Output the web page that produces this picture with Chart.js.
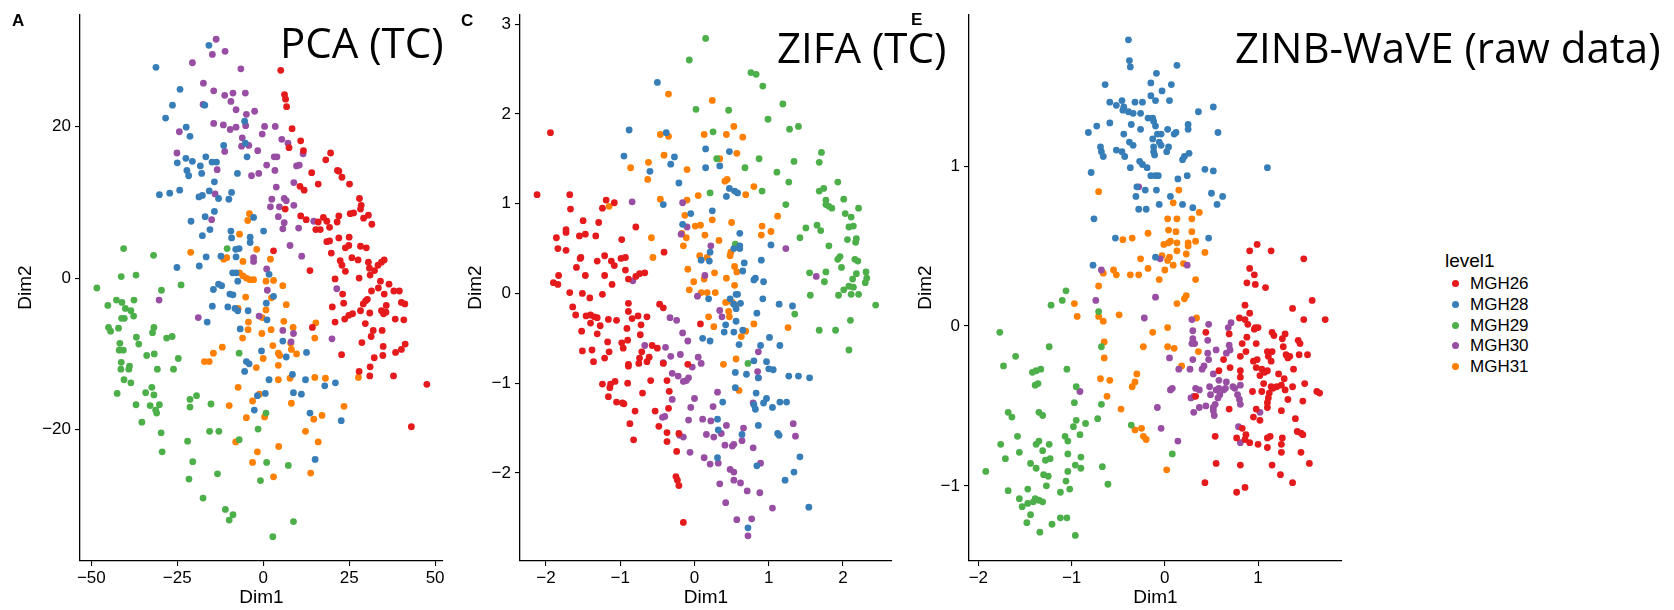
<!DOCTYPE html>
<html>
<head>
<meta charset="utf-8">
<script src="https://cdn.jsdelivr.net/npm/chart.js@4.4.1/dist/chart.umd.min.js"></script>
<style>
  body { margin: 0; width: 1674px; height: 610px; background: #fff; position: relative; overflow: hidden;
         font-family: 'Liberation Sans', Arial, sans-serif; color: #000; }
  canvas { position: absolute; top: 0; }
  .title { position: absolute; font-family: 'Open Sans', sans-serif; font-size: 42px; line-height: 42px; white-space: nowrap; }
  .tag { position: absolute; font-weight: bold; font-size: 17px; line-height: 17px; }
  #legend { position: absolute; left: 0; top: 0; }
  .legTitle { position: absolute; left: 1445px; top: 251px; font-size: 19px; line-height: 19px; white-space: nowrap; }
  .legItem { position: absolute; left: 1470px; font-size: 17px; line-height: 21px; white-space: nowrap; }
  .legDot { position: absolute; width: 7px; height: 7px; border-radius: 50%; }
</style>
</head>
<body>
<canvas id="pca" width="450" height="610" style="left:0px"></canvas>
<canvas id="zifa" width="450" height="610" style="left:450px"></canvas>
<canvas id="zinb" width="450" height="610" style="left:900px"></canvas>

<div class="tag" style="left:12px; top:12px">A</div>
<div class="tag" style="left:461px; top:12px">C</div>
<div class="tag" style="left:911px; top:11px">E</div>
<div class="title" style="left:280px; top:21px">PCA (TC)</div>
<div class="title" style="left:777px; top:26px">ZIFA (TC)</div>
<div class="title" style="left:1235px; top:26px">ZINB-WaVE (raw data)</div>
<div id="legend"></div>

<script>
const groupNames = ['MGH26', 'MGH28', 'MGH29', 'MGH30', 'MGH31'];
const groupColors = ['#E41A1C', '#377EB8', '#4DAF4A', '#984EA3', '#FF7F00'];

// PCA (TC)
const pcaXTicks = [-50, -25, 0, 25, 50];
const pcaYTicks = [-20, 0, 20];
const pcaMGH26 = [[5.1,27.4],[6.2,24.2],[6.5,23.6],[6.8,22.6],[8.4,19.7],[10.9,18.1],[7.5,17.2],[11.7,16.8],[19.6,16.5],[18.2,15.6],[21.6,14.2],[22.0,14.1],[14.1,13.9],[22.9,13.3],[25.1,12.4],[16.0,12.4],[10.7,12.1],[11.9,11.6],[28.0,10.5],[28.5,9.6],[28.3,9.1],[6.4,9.1],[25.3,8.5],[26.3,8.6],[30.6,8.3],[29.2,7.9],[22.0,8.2],[17.5,8.0],[10.9,8.2],[12.5,7.7],[16.0,7.4],[18.5,7.5],[21.5,7.4],[31.6,7.1],[15.3,6.4],[16.6,6.4],[19.3,6.7],[22.0,5.3],[25.0,5.4],[18.5,4.8],[19.3,4.9],[23.9,4.0],[24.9,4.3],[28.3,4.2],[30.0,4.0],[3.0,3.6],[19.8,3.3],[25.8,2.7],[27.6,2.4],[22.4,2.3],[22.9,1.7],[30.6,2.1],[35.2,2.4],[34.4,2.1],[33.4,1.7],[30.9,1.3],[32.4,1.0],[23.9,0.9],[13.6,1.0],[31.1,0.4],[27.9,0.0],[20.9,-0.1],[34.1,-0.4],[36.6,-0.8],[33.5,-1.3],[31.5,-1.7],[35.2,-2.1],[38.0,-1.7],[39.6,-1.7],[23.1,-2.1],[30.3,-2.8],[29.8,-3.0],[29.1,-3.4],[20.1,-3.8],[23.4,-3.3],[28.3,-4.3],[31.0,-4.6],[26.0,-4.7],[24.9,-4.9],[23.7,-5.4],[20.9,-5.8],[34.4,-4.3],[35.0,-4.7],[35.7,-4.5],[35.8,-3.6],[38.4,-5.4],[40.9,-5.5],[40.2,-3.2],[41.2,-3.4],[29.7,-6.0],[32.0,-6.9],[34.6,-6.9],[31.4,-7.7],[14.3,-6.5],[28.7,-8.5],[34.9,-9.0],[41.3,-8.7],[40.2,-9.4],[38.5,-9.8],[22.8,-10.1],[32.3,-10.5],[34.8,-10.2],[27.9,-12.3],[31.1,-11.7],[31.0,-12.9],[37.9,-12.9],[47.6,-14.0],[43.1,-19.6]];
const pcaMGH28 = [[-15.8,30.7],[-31.2,27.8],[-24.2,24.9],[-26.4,22.8],[-17.0,22.8],[-28.4,21.1],[-5.4,20.7],[-22.4,19.9],[-21.3,18.7],[-11.5,17.5],[-5.2,17.8],[-4.7,16.0],[-16.7,16.0],[-22.5,15.8],[-20.6,15.4],[-25.0,15.2],[-14.9,15.3],[-13.6,15.3],[-18.3,14.8],[-22.2,14.2],[-21.7,13.5],[-17.9,13.8],[-7.5,13.8],[-14.2,12.7],[-15.7,11.5],[-24.3,11.6],[-27.2,11.2],[-30.2,11.0],[-17.7,10.9],[-18.7,10.7],[-9.2,11.3],[-13.0,10.5],[-10.0,10.4],[-14.2,8.8],[-2.8,8.0],[-16.9,8.1],[-21.0,7.5],[-15.5,6.4],[-9.4,6.2],[0.1,6.2],[-17.7,5.6],[-9.2,5.3],[-3.8,5.4],[-3.8,4.7],[-8.0,3.8],[-7.0,3.9],[-16.6,2.8],[-12.3,2.9],[-7.9,2.8],[-25.1,1.4],[-18.6,1.6],[-8.9,0.7],[-7.9,0.7],[1.7,0.5],[-7.4,-0.4],[-13.0,-0.8],[-12.1,-1.0],[-14.5,-1.5],[-9.7,-2.1],[-8.8,-2.2],[3.0,-2.4],[-14.8,-3.7],[-10.3,-3.8],[-7.4,-4.3],[-8.2,-4.0],[-4.4,-4.3],[0.9,-3.3],[1.1,-5.5],[-16.3,-5.8],[-6.7,-6.7],[5.7,-8.3],[-0.5,-9.6],[6.7,-10.4],[12.6,-9.8],[-4.9,-11.0],[-4.1,-11.3],[-5.4,-12.3],[1.7,-13.4],[8.5,-12.7],[12.3,-13.4],[17.9,-14.2],[21.0,-13.8],[0.6,-15.2],[-1.7,-15.5],[8.8,-15.1],[11.1,-15.3],[-2.6,-17.4],[13.6,-17.8],[22.7,-18.8],[15.1,-23.9]];
const pcaMGH29 = [[-40.6,3.9],[-31.9,3.0],[-10.5,3.9],[-41.3,0.2],[-37.0,0.4],[-23.9,-0.9],[-48.4,-1.3],[-29.6,-1.6],[-42.7,-2.9],[-41.1,-3.2],[-37.6,-2.9],[-45.2,-3.6],[-40.1,-4.0],[-38.5,-4.3],[-41.2,-5.3],[-40.4,-5.3],[-37.7,-5.0],[-45.0,-6.5],[-44.4,-7.0],[-42.1,-6.6],[-31.8,-6.5],[-32.2,-7.2],[-36.9,-7.8],[-36.2,-8.7],[-41.7,-8.6],[-28.1,-7.9],[-26.5,-7.7],[-41.9,-9.5],[-40.7,-9.5],[-33.9,-10.2],[-31.7,-10.0],[-24.7,-10.6],[-41.3,-11.1],[-38.9,-11.6],[-39.1,-12.0],[-41.4,-12.0],[-30.8,-12.0],[-26.1,-12.0],[-40.5,-13.4],[-38.5,-13.8],[-34.2,-15.1],[-32.4,-14.4],[-31.8,-15.4],[-42.5,-15.2],[-19.4,-15.5],[-21.3,-16.0],[-21.3,-17.0],[-37.0,-16.7],[-32.9,-16.8],[-30.2,-16.7],[-31.3,-17.4],[-31.0,-17.8],[-15.2,-16.6],[-7.0,-9.9],[0.8,-17.8],[-35.3,-19.0],[-29.7,-20.4],[-15.6,-20.2],[-12.9,-20.2],[-1.5,-19.9],[-7.0,-21.3],[-22.0,-21.5],[-29.4,-22.9],[-20.5,-24.2],[1.0,-24.3],[7.3,-24.7],[-13.3,-25.8],[-21.6,-26.5],[-0.8,-26.7],[-17.5,-29.0],[-11.0,-30.5],[-9.9,-31.9],[-8.8,-31.2],[8.8,-32.1],[2.8,-34.1]];
const pcaMGH30 = [[-13.7,31.5],[-14.8,29.5],[-11.1,29.9],[-20.6,28.4],[-6.5,27.6],[-17.4,25.7],[-14.4,24.7],[-11.2,24.1],[-8.8,24.4],[-5.2,24.4],[-9.4,23.3],[-17.5,22.9],[-7.9,22.2],[-4.9,21.6],[-2.5,22.0],[-14.4,20.4],[-11.6,20.2],[-9.6,19.6],[-7.9,19.9],[-5.1,20.1],[0.4,20.0],[3.5,20.0],[-0.3,19.0],[-24.4,19.3],[-6.1,18.5],[5.4,18.3],[7.2,17.8],[-6.3,17.4],[-4.2,17.5],[-11.2,16.7],[-25.1,16.5],[-1.6,16.8],[3.2,16.0],[4.0,16.0],[11.6,16.4],[1.0,14.9],[9.7,14.8],[10.5,14.9],[3.4,14.2],[-13.4,14.3],[-1.3,13.8],[-3.4,13.5],[8.9,12.6],[3.8,12.0],[-14.0,11.1],[6.1,10.5],[2.5,10.4],[6.7,10.2],[8.9,9.6],[2.1,9.4],[4.7,9.4],[4.4,8.1],[-15.0,7.7],[6.1,7.3],[5.7,6.5],[10.3,6.6],[14.7,7.5],[7.8,4.3],[11.2,2.9],[-2.8,2.7],[-2.8,2.2],[1.0,1.2],[1.2,-1.6],[21.4,-1.4],[-30.3,-2.9],[-18.9,-5.2],[-1.2,-5.0],[5.7,-6.9],[8.8,-7.3],[20.0,-8.0],[8.1,-8.4]];
const pcaMGH31 = [[-4.0,8.5],[-4.5,7.6],[-6.9,5.8],[-21.1,3.4],[-1.9,3.8],[-10.6,2.7],[-11.5,2.5],[-5.9,2.2],[2.1,2.5],[-6.9,0.7],[-5.9,0.3],[-4.9,0.0],[-3.9,-0.2],[-2.8,-0.2],[0.8,-0.4],[3.0,-0.3],[5.7,-1.0],[-5.1,-2.5],[-7.3,-4.0],[0.8,-4.2],[2.4,-2.6],[6.7,-3.5],[-4.3,-5.8],[-0.3,-5.2],[6.0,-5.7],[15.3,-5.9],[-4.4,-6.8],[2.3,-6.8],[8.7,-6.5],[-0.4,-7.3],[-6.0,-7.9],[15.0,-7.9],[2.8,-8.9],[8.0,-8.6],[8.2,-9.4],[-11.9,-9.1],[-14.5,-9.9],[-17.1,-11.0],[-15.7,-11.0],[4.4,-9.9],[4.8,-10.2],[9.7,-10.0],[0.0,-10.6],[4.4,-11.5],[-2.0,-11.8],[4.4,-13.4],[7.8,-13.2],[15.0,-13.1],[18.1,-13.2],[27.7,-13.1],[-7.3,-14.4],[-1.1,-15.3],[-3.1,-16.2],[-9.9,-16.8],[8.2,-16.5],[23.5,-16.9],[-4.9,-18.4],[0.4,-18.3],[17.1,-18.1],[14.7,-18.6],[12.3,-20.2],[-8.0,-21.6],[16.0,-21.6],[4.5,-22.2],[-1.7,-22.9],[-3.1,-24.3],[13.8,-25.7],[3.0,-26.2]];

// ZIFA (TC)
const zifaXTicks = [-2, -1, 0, 1, 2];
const zifaYTicks = [-2, -1, 0, 1, 2, 3];
const zifaMGH26 = [[-1.94,1.79],[-2.12,1.10],[-1.68,1.10],[-1.67,0.94],[-1.50,0.81],[-1.29,0.79],[-1.19,1.04],[-1.08,1.01],[-1.24,0.95],[-0.79,0.74],[-1.86,0.62],[-1.73,0.71],[-1.73,0.68],[-1.55,0.64],[-1.47,0.66],[-1.33,0.64],[-0.98,0.60],[-1.84,0.50],[-1.73,0.48],[-0.41,0.46],[-1.54,0.39],[-1.53,0.40],[-1.59,0.29],[-1.31,0.36],[-1.21,0.42],[-1.12,0.36],[-1.08,0.31],[-0.99,0.39],[-0.93,0.40],[-0.93,0.26],[-1.47,0.20],[-1.21,0.20],[-1.83,0.20],[-1.90,0.12],[-1.84,0.10],[-1.11,0.10],[-0.89,0.16],[-0.79,0.19],[-0.74,0.22],[-0.67,0.23],[-1.68,0.01],[-1.51,0.00],[-1.41,-0.05],[-1.24,-0.01],[-1.64,-0.15],[-1.60,-0.24],[-1.40,-0.24],[-1.35,-0.26],[-1.31,-0.27],[-1.46,-0.25],[-1.40,-0.33],[-1.27,-0.36],[-1.16,-0.29],[-1.05,-0.30],[-1.52,-0.42],[-1.31,-0.45],[-0.89,-0.11],[-0.89,-0.20],[-0.84,-0.28],[-0.76,-0.25],[-0.64,-0.26],[-0.72,-0.35],[-0.47,-0.12],[-0.42,-0.16],[-0.91,-0.39],[-0.73,-0.46],[-1.17,-0.54],[-0.98,-0.55],[-0.90,-0.52],[-0.96,-0.61],[-1.51,-0.64],[-1.38,-0.63],[-1.15,-0.65],[-1.21,-0.72],[-1.36,-0.76],[-0.71,-0.65],[-0.57,-0.58],[-0.50,-0.61],[-0.74,-0.72],[-0.61,-0.71],[-0.75,-0.78],[-0.64,-0.76],[-0.89,-0.79],[-0.89,-0.81],[-0.42,-0.78],[-0.09,-0.79],[-0.59,-0.97],[-0.37,-0.97],[-0.90,-1.00],[-1.24,-1.01],[-1.13,-1.01],[-1.07,-0.98],[-1.14,-1.05],[-0.70,-1.11],[-0.34,-1.09],[-1.16,-1.15],[-1.05,-1.21],[-0.97,-1.22],[-0.95,-1.23],[-0.80,-1.31],[-0.53,-1.31],[-0.35,-1.28],[-0.87,-1.45],[-0.48,-1.48],[-0.37,-1.55],[-0.21,-1.56],[-0.37,-1.65],[-0.82,-1.63],[-0.24,-1.76],[-0.25,-2.04],[-0.23,-2.08],[-0.21,-2.14],[-0.15,-2.55],[0.08,-0.34]];
const zifaMGH28 = [[-0.50,2.35],[-0.88,1.82],[-0.38,1.79],[-0.95,1.53],[-0.27,1.52],[-0.32,1.44],[-0.60,1.36],[-0.21,1.23],[0.15,1.61],[0.15,1.40],[0.34,1.42],[0.47,1.58],[0.47,1.17],[0.54,1.14],[0.58,1.12],[0.43,1.08],[-0.42,0.99],[-0.05,0.89],[0.24,0.92],[-0.16,0.77],[0.61,0.67],[0.53,0.50],[0.61,0.50],[0.61,0.53],[0.21,0.46],[0.09,0.37],[0.20,0.36],[0.67,0.34],[0.90,0.37],[1.03,0.54],[0.65,0.25],[0.80,0.15],[0.82,0.17],[0.93,0.13],[0.56,-0.01],[0.58,-0.01],[0.19,-0.06],[0.48,-0.06],[0.92,-0.06],[0.62,-0.11],[0.53,-0.12],[0.56,-0.17],[0.84,-0.22],[1.14,-0.12],[1.32,-0.14],[0.56,-0.31],[0.42,-0.35],[0.40,-0.43],[0.53,-0.43],[0.65,-0.41],[0.11,-0.50],[0.21,-0.53],[0.60,-0.57],[1.01,-0.49],[0.89,-0.58],[1.15,-0.58],[0.80,-0.75],[0.97,-0.76],[0.55,-0.88],[0.70,-0.90],[1.00,-0.84],[1.06,-0.85],[0.86,-0.94],[1.27,-0.92],[1.40,-0.92],[1.55,-0.94],[0.55,-1.05],[0.83,-1.11],[0.97,-1.17],[0.93,-1.22],[1.05,-1.27],[1.15,-1.21],[1.24,-1.21],[0.38,-1.21],[0.80,-1.24],[0.82,-1.29],[0.31,-1.40],[0.32,-1.52],[0.86,-1.47],[0.64,-1.57],[1.12,-1.56],[1.14,-1.58],[1.42,-1.82],[0.31,-1.83],[0.84,-1.92],[1.34,-1.99],[1.22,-2.08],[1.54,-2.38],[0.72,-2.61]];
const zifaMGH29 = [[0.15,2.84],[-0.07,2.60],[0.76,2.46],[0.83,2.44],[0.92,2.31],[0.02,2.05],[0.46,2.04],[1.19,2.11],[0.99,1.94],[1.40,1.86],[1.28,1.83],[0.25,1.80],[1.34,1.47],[0.87,1.50],[0.30,1.50],[0.68,1.40],[1.11,1.35],[1.71,1.57],[1.68,1.46],[1.27,1.24],[1.93,1.24],[0.91,1.14],[0.21,1.12],[1.68,1.14],[1.74,1.17],[1.77,1.04],[2.01,1.05],[1.77,0.99],[1.81,0.97],[1.85,0.95],[1.23,0.99],[2.21,0.95],[2.03,0.89],[2.11,0.85],[2.08,0.74],[2.14,0.75],[1.50,0.73],[1.65,0.76],[1.70,0.70],[1.42,0.62],[2.06,0.60],[2.18,0.61],[2.17,0.57],[1.81,0.53],[0.55,0.55],[1.93,0.38],[1.96,0.41],[2.16,0.38],[2.20,0.36],[1.98,0.29],[1.55,0.23],[1.77,0.24],[2.31,0.24],[2.18,0.22],[2.13,0.16],[2.32,0.17],[2.30,0.12],[1.75,0.13],[2.08,0.08],[2.14,0.07],[2.01,0.04],[2.21,-0.01],[2.11,-0.01],[1.56,-0.02],[1.94,-0.02],[2.44,-0.13],[1.35,-0.23],[1.68,-0.41],[1.90,-0.41],[2.10,-0.30],[2.08,-0.63],[0.72,-0.78]];
const zifaMGH30 = [[-0.84,1.02],[-0.16,1.01],[-0.10,0.74],[-0.18,0.66],[0.22,0.53],[1.23,0.50],[0.14,0.20],[-0.83,0.14],[1.64,0.19],[0.04,-0.03],[-0.33,-0.27],[-0.24,-0.30],[0.34,-0.19],[0.37,-0.26],[-0.16,-0.44],[-0.09,-0.53],[-0.67,-0.58],[-0.39,-0.60],[-0.32,-0.70],[-0.19,-0.68],[0.05,-0.71],[0.09,-0.78],[-0.42,-0.77],[-0.03,-0.82],[0.86,-0.65],[-0.30,-0.89],[-0.22,-0.92],[-0.08,-0.94],[-0.11,-0.97],[-0.15,-0.98],[0.85,-0.87],[0.86,-0.94],[0.31,-1.10],[-0.30,-1.18],[0.00,-1.17],[-0.05,-1.27],[0.25,-1.26],[0.79,-1.22],[-0.40,-1.37],[-0.43,-1.38],[-0.08,-1.41],[0.11,-1.40],[0.22,-1.42],[0.43,-1.47],[0.36,-1.56],[0.66,-1.50],[1.33,-1.45],[1.36,-1.59],[-0.20,-1.58],[-0.15,-1.60],[0.16,-1.57],[0.26,-1.60],[0.64,-1.64],[0.41,-1.69],[0.51,-1.70],[0.53,-1.68],[0.79,-1.72],[-0.06,-1.77],[0.13,-1.83],[0.32,-1.89],[0.21,-1.90],[0.48,-1.96],[0.53,-1.99],[0.89,-1.89],[0.34,-2.12],[0.53,-2.08],[0.62,-2.11],[0.71,-2.20],[0.88,-2.22],[0.42,-2.33],[1.05,-2.39],[0.57,-2.52],[0.77,-2.51],[0.72,-2.70]];
const zifaMGH31 = [[-0.35,2.22],[0.24,2.15],[0.53,1.86],[-0.46,1.77],[-0.35,1.75],[0.13,1.77],[0.43,1.77],[0.65,1.74],[0.57,1.56],[-0.41,1.54],[0.34,1.50],[-0.62,1.46],[-0.86,1.40],[-0.10,1.38],[-0.63,1.27],[0.41,1.25],[0.44,1.27],[0.80,1.19],[0.05,1.09],[0.69,1.10],[-0.46,1.05],[-0.10,1.04],[-1.15,0.97],[-0.13,0.87],[0.24,0.82],[0.50,0.79],[1.12,0.86],[0.01,0.75],[0.08,0.76],[0.91,0.75],[-0.17,0.67],[-0.11,0.62],[0.14,0.65],[1.03,0.69],[0.90,0.65],[-0.58,0.62],[0.33,0.59],[-0.15,0.53],[-0.56,0.40],[0.07,0.42],[0.17,0.40],[0.49,0.46],[0.48,0.42],[0.54,0.30],[0.57,0.24],[-0.09,0.27],[0.27,0.23],[-0.01,0.13],[0.13,0.16],[0.43,0.17],[0.54,0.09],[-0.07,0.04],[0.09,0.01],[0.17,0.01],[0.28,0.01],[0.42,-0.10],[0.51,-0.10],[0.56,-0.13],[0.46,-0.20],[0.47,-0.26],[0.19,-0.26],[0.26,-0.37],[0.80,-0.34],[1.26,-0.38],[0.69,-0.42],[0.63,-0.48],[0.56,-0.73],[0.39,-0.79],[0.60,-1.08]];

// ZINB-WaVE (raw data)
const zinbXTicks = [-2, -1, 0, 1];
const zinbYTicks = [-1, 0, 1];
const zinbMGH26 = [[0.91,0.47],[0.99,0.51],[1.14,0.47],[1.49,0.42],[0.91,0.36],[0.96,0.32],[0.88,0.27],[0.97,0.26],[1.08,0.24],[1.58,0.16],[0.86,0.13],[1.37,0.11],[0.91,0.08],[0.80,0.05],[0.86,0.04],[1.49,0.04],[1.72,0.04],[0.89,0.01],[0.96,-0.02],[1.00,-0.01],[0.97,-0.01],[0.69,-0.05],[0.44,-0.04],[1.15,-0.04],[1.17,-0.06],[1.29,-0.05],[0.88,-0.07],[1.26,-0.08],[1.43,-0.09],[1.45,-0.11],[0.83,-0.11],[0.98,-0.11],[1.27,-0.13],[1.10,-0.16],[1.15,-0.16],[0.87,-0.16],[1.30,-0.18],[1.34,-0.19],[1.32,-0.20],[1.44,-0.18],[1.53,-0.18],[0.81,-0.19],[0.63,-0.21],[0.70,-0.26],[0.58,-0.28],[1.11,-0.19],[1.14,-0.22],[0.95,-0.22],[0.99,-0.21],[0.98,-0.26],[0.81,-0.28],[1.04,-0.27],[1.07,-0.29],[1.10,-0.28],[1.22,-0.30],[1.38,-0.27],[0.81,-0.32],[1.02,-0.31],[1.28,-0.33],[1.06,-0.36],[1.14,-0.38],[1.16,-0.39],[1.20,-0.38],[1.25,-0.37],[1.29,-0.40],[1.37,-0.38],[1.50,-0.36],[0.94,-0.41],[1.04,-0.41],[1.12,-0.42],[1.66,-0.42],[1.63,-0.41],[1.11,-0.45],[1.32,-0.46],[1.48,-0.47],[1.10,-0.48],[1.10,-0.51],[0.98,-0.52],[1.25,-0.53],[0.69,-0.52],[0.95,-0.57],[1.02,-0.59],[1.40,-0.58],[0.83,-0.64],[1.42,-0.66],[1.46,-0.67],[1.48,-0.68],[0.87,-0.68],[0.54,-0.69],[0.77,-0.70],[0.86,-0.71],[0.91,-0.73],[1.00,-0.74],[1.13,-0.69],[1.10,-0.70],[1.26,-0.70],[1.25,-0.74],[1.10,-0.76],[1.25,-0.79],[1.46,-0.79],[0.55,-0.86],[0.81,-0.87],[1.15,-0.87],[1.55,-0.86],[1.24,-0.93],[0.43,-0.98],[1.37,-0.98],[0.86,-1.01],[0.77,-1.04],[0.33,-0.44]];
const zinbMGH28 = [[-0.39,1.79],[-0.38,1.66],[-0.37,1.62],[0.13,1.63],[-0.09,1.58],[-0.64,1.51],[-0.15,1.52],[0.07,1.51],[-0.03,1.47],[-0.15,1.44],[0.05,1.41],[-0.10,1.41],[-0.59,1.40],[-0.46,1.41],[-0.32,1.40],[-0.24,1.40],[-0.52,1.38],[-0.44,1.37],[-0.45,1.35],[-0.39,1.34],[-0.34,1.33],[-0.26,1.33],[0.52,1.37],[0.36,1.34],[-0.18,1.30],[-0.13,1.30],[-0.12,1.28],[-0.10,1.25],[-0.59,1.27],[-0.73,1.25],[-0.36,1.26],[-0.26,1.23],[-0.82,1.21],[-0.44,1.20],[0.03,1.23],[-0.08,1.20],[-0.04,1.20],[0.10,1.20],[0.12,1.21],[0.25,1.26],[0.25,1.23],[0.57,1.21],[-0.13,1.17],[-0.38,1.15],[-0.34,1.13],[-0.06,1.15],[-0.04,1.13],[-0.69,1.12],[-0.12,1.12],[0.04,1.12],[0.02,1.09],[-0.68,1.09],[-0.66,1.06],[-0.52,1.10],[-0.46,1.09],[-0.12,1.09],[-0.11,1.07],[-0.43,1.06],[0.21,1.06],[0.26,1.08],[0.19,1.04],[-0.27,1.03],[-0.24,1.01],[-0.19,0.99],[-0.37,0.99],[1.10,0.99],[0.43,0.98],[0.52,0.97],[-0.79,0.96],[-0.15,0.94],[-0.10,0.94],[-0.07,0.94],[0.14,0.92],[0.24,0.94],[-0.30,0.87],[-0.21,0.85],[-0.09,0.85],[-0.31,0.81],[0.06,0.81],[0.50,0.83],[0.62,0.81],[-0.06,0.76],[0.19,0.76],[0.56,0.76],[-0.28,0.73],[-0.20,0.73],[0.30,0.74],[-0.76,0.67],[-0.53,0.55],[0.47,0.55],[-0.10,0.43],[-0.77,0.38]];
const zinbMGH29 = [[-1.06,0.22],[-1.10,0.16],[-1.22,0.13],[-0.71,0.09],[-1.77,-0.04],[-1.24,-0.13],[-0.68,-0.13],[-1.60,-0.19],[-1.73,-0.25],[-1.05,-0.27],[-1.33,-0.27],[-1.38,-0.28],[-1.42,-0.29],[-1.36,-0.36],[-1.39,-0.37],[-0.95,-0.38],[-0.97,-0.48],[-0.68,-0.49],[-1.68,-0.54],[-1.64,-0.57],[-1.35,-0.54],[-1.31,-0.56],[-0.72,-0.58],[-0.36,-0.62],[-0.95,-0.59],[-0.98,-0.63],[-0.85,-0.61],[-0.91,-0.68],[-1.58,-0.69],[-1.07,-0.69],[-1.04,-0.72],[-1.35,-0.72],[-1.38,-0.74],[-1.76,-0.74],[-1.24,-0.74],[-1.56,-0.79],[-1.31,-0.78],[-1.71,-0.83],[-0.90,-0.82],[-1.28,-0.84],[-1.23,-0.83],[-1.04,-0.80],[-1.44,-0.86],[-1.38,-0.89],[-0.96,-0.87],[-0.90,-0.89],[-0.67,-0.88],[-1.30,-0.93],[-1.25,-0.94],[-1.04,-0.91],[-1.92,-0.91],[0.08,-0.80],[-1.06,-0.97],[-0.61,-0.99],[-1.27,-1.00],[-1.02,-1.02],[-1.68,-1.03],[-1.47,-1.02],[-1.12,-1.04],[-1.56,-1.08],[-1.39,-1.08],[-1.35,-1.09],[-1.53,-1.13],[-1.47,-1.11],[-1.41,-1.10],[-1.31,-1.10],[-1.44,-1.18],[-1.12,-1.20],[-1.05,-1.20],[-1.48,-1.23],[-1.21,-1.24],[-1.34,-1.29],[-0.96,-1.31]];
const zinbMGH30 = [[-0.28,0.87],[-0.68,0.35],[-0.05,0.42],[0.24,0.38],[-0.10,0.18],[-0.74,0.16],[-0.22,0.05],[0.29,0.04],[0.47,0.01],[0.30,-0.03],[0.30,-0.08],[0.32,-0.11],[0.29,-0.11],[0.46,-0.09],[0.71,0.02],[0.68,-0.01],[0.69,-0.12],[0.70,-0.15],[0.66,-0.17],[0.55,-0.15],[0.46,-0.17],[0.47,-0.21],[0.30,-0.21],[0.05,-0.20],[0.15,-0.27],[0.27,-0.27],[0.40,-0.27],[0.42,-0.25],[0.52,-0.30],[0.58,-0.34],[0.66,-0.35],[0.75,-0.39],[0.73,-0.38],[0.65,-0.39],[0.58,-0.39],[0.55,-0.40],[0.48,-0.38],[0.49,-0.43],[0.59,-0.43],[0.33,-0.39],[0.37,-0.40],[0.31,-0.44],[0.28,-0.45],[0.57,-0.45],[0.54,-0.49],[0.52,-0.51],[0.52,-0.53],[0.37,-0.51],[0.44,-0.50],[0.31,-0.54],[0.63,-0.40],[0.81,-0.37],[0.78,-0.43],[0.80,-0.46],[0.81,-0.49],[0.06,-0.40],[0.08,-0.39],[-0.08,-0.51],[-0.04,-0.64],[0.14,-0.72],[0.79,-0.63],[0.81,-0.73],[1.02,-0.54],[-0.91,-0.41],[0.53,-0.56]];
const zinbMGH31 = [[-0.71,0.84],[0.15,0.85],[0.09,0.77],[0.37,0.71],[0.03,0.67],[0.13,0.67],[0.29,0.67],[0.04,0.60],[0.12,0.59],[0.29,0.59],[-0.45,0.54],[-0.35,0.55],[-0.18,0.58],[-0.01,0.51],[0.06,0.53],[0.13,0.52],[0.04,0.52],[0.25,0.52],[0.25,0.50],[0.33,0.53],[0.13,0.47],[0.43,0.46],[0.23,0.45],[-0.26,0.42],[-0.03,0.44],[0.05,0.43],[0.03,0.41],[0.09,0.38],[0.20,0.39],[-0.18,0.36],[-0.55,0.35],[-0.66,0.33],[-0.52,0.32],[-0.37,0.32],[-0.28,0.32],[0.00,0.35],[-0.06,0.29],[0.33,0.29],[-0.71,0.25],[0.23,0.19],[0.21,0.17],[0.13,0.14],[-0.97,0.14],[-0.94,0.06],[-0.71,0.06],[-0.66,0.03],[-0.49,0.07],[0.34,0.05],[0.03,-0.01],[-0.13,-0.04],[-0.65,-0.10],[-0.23,-0.13],[0.03,-0.13],[0.10,-0.14],[0.36,-0.16],[-0.65,-0.20],[0.18,-0.25],[-0.30,-0.30],[-0.69,-0.33],[-0.59,-0.34],[-0.32,-0.35],[-0.35,-0.38],[-0.62,-0.44],[-0.47,-0.52],[-0.25,-0.64],[-0.32,-0.65],[-0.23,-0.69],[-0.20,-0.71],[0.02,-0.90]];

Chart.defaults.font.family = "'Liberation Sans', Arial, sans-serif";
Chart.defaults.color = '#000';

function fmtTick(v) {
  return String(v).replace('-', '\u2212');
}

function makeAxis(range, tickValues, title, size, horizontal) {
  return {
    type: 'linear',
    min: range[0],
    max: range[1],
    afterBuildTicks: (scale) => {
      scale.ticks = tickValues.map((v) => ({ value: v }));
    },
    afterFit: (scale) => {
      if (horizontal) scale.height = size;
      else scale.width = size;
    },
    border: { display: true, color: '#000', width: 1.3 },
    grid: { drawOnChartArea: false, drawTicks: true, tickLength: 5, color: '#000', lineWidth: 1.1 },
    ticks: {
      color: '#000',
      font: { size: 17 },
      padding: horizontal ? 2 : 4,
      autoSkip: false,
      maxRotation: 0,
      callback: fmtTick,
    },
    title: {
      display: true,
      text: title,
      color: '#000',
      font: { size: 19 },
      padding: horizontal ? { top: 0, bottom: 1 } : { top: 14, bottom: 0 },
    },
  };
}

function makePanel(id, groups, xRange, yRange, xTicks, yTicks, yAxisWidth, rightPad) {
  const datasets = groups.map((g, i) => ({
    label: groupNames[i],
    data: g.map((p) => ({ x: p[0], y: p[1] })),
    backgroundColor: groupColors[i],
    borderWidth: 0,
    pointRadius: 3.4,
    pointHoverRadius: 3.4,
  }));

  new Chart(document.getElementById(id), {
    type: 'scatter',
    data: { datasets: datasets },
    options: {
      responsive: false,
      animation: false,
      events: [],
      layout: { padding: { top: 14, right: rightPad, left: 0, bottom: 0 } },
      plugins: { legend: { display: false }, tooltip: { enabled: false } },
      scales: {
        x: makeAxis(xRange, xTicks, 'Dim1', 49, true),
        y: makeAxis(yRange, yTicks, 'Dim2', yAxisWidth, false),
      },
    },
  });
}

makePanel('pca', [pcaMGH26, pcaMGH28, pcaMGH29, pcaMGH30, pcaMGH31],
  [-53.3, 52.3], [-37.3, 34.8], pcaXTicks, pcaYTicks, 80, 7);
makePanel('zifa', [zifaMGH26, zifaMGH28, zifaMGH29, zifaMGH30, zifaMGH31],
  [-2.35, 2.66], [-2.98, 3.11], zifaXTicks, zifaYTicks, 70, 8);
makePanel('zinb', [zinbMGH26, zinbMGH28, zinbMGH29, zinbMGH30, zinbMGH31],
  [-2.10, 1.90], [-1.47, 1.95], zinbXTicks, zinbYTicks, 69, 8);

// legend
const legend = document.getElementById('legend');
legend.innerHTML = '<div class="legTitle">level1</div>';
groupNames.forEach((name, i) => {
  const cy = 283.5 + i * 20.8;
  legend.innerHTML +=
    `<div class="legDot" style="left:${1452}px; top:${cy - 3.5}px; background:${groupColors[i]}"></div>` +
    `<div class="legItem" style="top:${cy - 10.5}px">${name}</div>`;
});
</script>
</body>
</html>
